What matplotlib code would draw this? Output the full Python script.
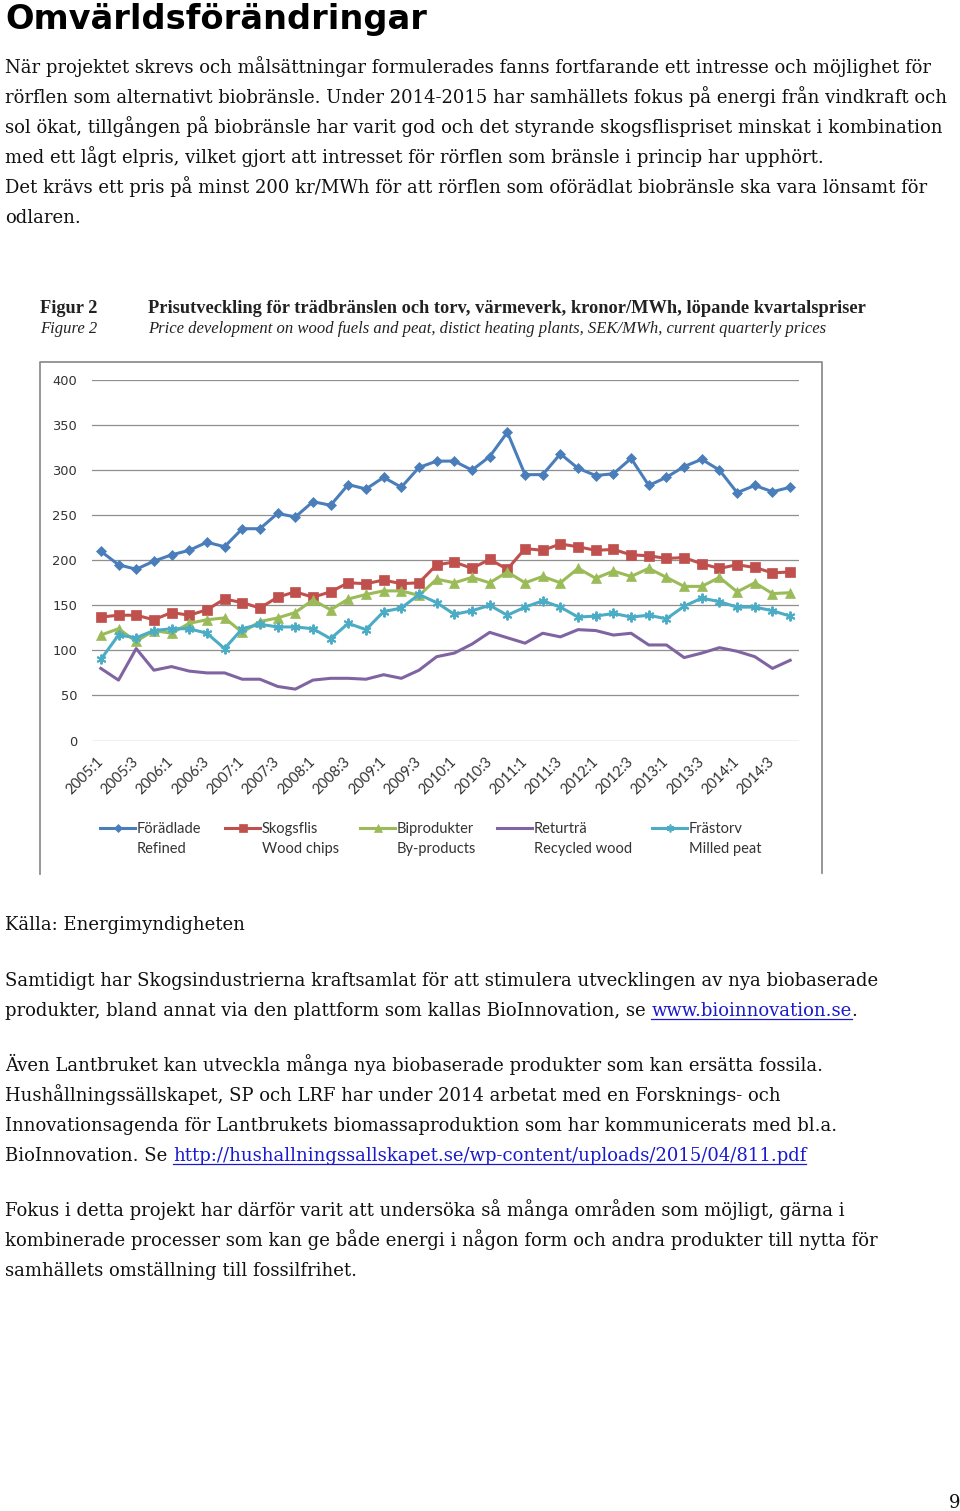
import matplotlib
matplotlib.use("Agg")
import matplotlib.pyplot as plt
from matplotlib.lines import Line2D

W, H = 960, 1511

# ---------------- data ----------------
categories = [f"{y}:{q}" for y in range(2005, 2015) for q in (1, 2, 3, 4)]
tick_labels = ["2005:1", "2005:3", "2006:1", "2006:3", "2007:1", "2007:3",
               "2008:1", "2008:3", "2009:1", "2009:3", "2010:1", "2010:3",
               "2011:1", "2011:3", "2012:1", "2012:3", "2013:1", "2013:3",
               "2014:1", "2014:3"]
y_ticks = [0, 50, 100, 150, 200, 250, 300, 350, 400]

foradlade = [210, 195, 190, 199, 206, 211, 220, 215, 235, 235,
             252, 248, 265, 261, 284, 279, 292, 281, 303, 310,
             310, 300, 315, 342, 295, 295, 318, 302, 294, 296,
             313, 283, 292, 304, 312, 300, 275, 283, 276, 281]
skogsflis = [137, 139, 139, 134, 142, 139, 145, 157, 153, 147,
             159, 165, 159, 165, 175, 174, 178, 174, 175, 195,
             198, 191, 201, 190, 213, 211, 218, 215, 211, 212,
             206, 205, 202, 203, 196, 191, 195, 192, 186, 187]
biprodukter = [117, 124, 110, 122, 119, 130, 134, 136, 120, 132,
               136, 142, 156, 145, 157, 162, 166, 166, 161, 179,
               175, 181, 175, 187, 175, 182, 175, 191, 180, 188,
               182, 191, 181, 171, 171, 181, 165, 175, 163, 164]
returtra = [80, 67, 102, 78, 82, 77, 75, 75, 68, 68,
            60, 57, 67, 69, 69, 68, 73, 69, 78, 93,
            97, 107, 120, 114, 108, 119, 115, 123, 122, 117,
            119, 106, 106, 92, 97, 103, 99, 93, 80, 89]
frastorv = [90, 117, 114, 122, 124, 124, 119, 102, 124, 129,
            126, 126, 124, 113, 130, 123, 143, 147, 162, 153,
            140, 144, 150, 139, 148, 155, 148, 137, 138, 141,
            137, 139, 135, 149, 158, 154, 148, 148, 144, 138]

series_sv = ["Förädlade", "Skogsflis", "Biprodukter", "Returträ", "Frästorv"]
series_en = ["Refined", "Wood chips", "By-products", "Recycled wood", "Milled peat"]
series_vals = [foradlade, skogsflis, biprodukter, returtra, frastorv]

# ---------------- styles ----------------
colors = ["#4A7EBB", "#C0504D", "#9BBB59", "#8064A2", "#4BACC6"]
markers = ["D", "s", "^", None, (6, 2, 0)]
msizes = [5, 6.5, 7, 0, 7]

title = "Omvärldsförändringar"
para1 = [
    "När projektet skrevs och målsättningar formulerades fanns fortfarande ett intresse och möjlighet för",
    "rörflen som alternativt biobränsle. Under 2014-2015 har samhällets fokus på energi från vindkraft och",
    "sol ökat, tillgången på biobränsle har varit god och det styrande skogsflispriset minskat i kombination",
    "med ett lågt elpris, vilket gjort att intresset för rörflen som bränsle i princip har upphört.",
    "Det krävs ett pris på minst 200 kr/MWh för att rörflen som oförädlat biobränsle ska vara lönsamt för",
    "odlaren.",
]
fig_label_sv = "Figur 2"
fig_label_en = "Figure 2"
fig_title_sv = "Prisutveckling för trädbränslen och torv, värmeverk, kronor/MWh, löpande kvartalspriser"
fig_title_en = "Price development on wood fuels and peat, distict heating plants, SEK/MWh, current quarterly prices"

fig = plt.figure(figsize=(W / 100, H / 100), dpi=100)
fig.patch.set_facecolor("white")
renderer = fig.canvas.get_renderer()


def fx(x):
    return x / W


def fy(y):
    return 1 - y / H


def put(x, y, s, **kw):
    kw.setdefault("va", "baseline")
    kw.setdefault("ha", "left")
    return fig.text(fx(x), fy(y), s, **kw)


def width(s, **kw):
    t = fig.text(0, 0, s, **kw)
    w = t.get_window_extent(renderer).width
    t.remove()
    return w


def fit_size(s, target, **kw):
    return 10 * target / width(s, fontsize=10, **kw)


# ---------------- page text ----------------
put(5, 29, title, family="DejaVu Sans", weight="bold",
    fontsize=fit_size(title, 420, family="DejaVu Sans", weight="bold"), color="black")

body_family = "DejaVu Serif"
bs = fit_size(para1[0], 930, family=body_family)
body_kw = dict(family=body_family, fontsize=bs, color="#111111")
for i, line in enumerate(para1):
    put(5, 73 + 30 * i, line, **body_kw)

space_w = width("a a", **body_kw) - width("aa", **body_kw)
link_color = "#1a1acc"


def line_with_link(x, y, pre, link, post):
    xx = x
    if pre:
        put(xx, y, pre.rstrip(), **body_kw)
        xx += width(pre.rstrip(), **body_kw) + (space_w if pre.endswith(" ") else 0)
    put(xx, y, link, **{**body_kw, "color": link_color})
    lw_ = width(link, **body_kw)
    fig.add_artist(Line2D([fx(xx), fx(xx + lw_)], [fy(y + 2.5)] * 2,
                          color=link_color, lw=0.9))
    xx += lw_
    if post:
        put(xx, y, post, **body_kw)


put(5, 930, "Källa: Energimyndigheten", **body_kw)
put(5, 986, "Samtidigt har Skogsindustrierna kraftsamlat för att stimulera utvecklingen av nya biobaserade", **body_kw)
line_with_link(5, 1016, "produkter, bland annat via den plattform som kallas BioInnovation, se ",
               "www.bioinnovation.se", ".")
put(5, 1071, "Även Lantbruket kan utveckla många nya biobaserade produkter som kan ersätta fossila.", **body_kw)
put(5, 1101, "Hushållningssällskapet, SP och LRF har under 2014 arbetat med en Forsknings- och", **body_kw)
put(5, 1131, "Innovationsagenda för Lantbrukets biomassaproduktion som har kommunicerats med bl.a.", **body_kw)
line_with_link(5, 1161, "BioInnovation. Se ",
               "http://hushallningssallskapet.se/wp-content/uploads/2015/04/811.pdf", "")
put(5, 1216, "Fokus i detta projekt har därför varit att undersöka så många områden som möjligt, gärna i", **body_kw)
put(5, 1246, "kombinerade processer som kan ge både energi i någon form och andra produkter till nytta för", **body_kw)
put(5, 1276, "samhällets omställning till fossilfrihet.", **body_kw)
put(949, 1508, "9", **body_kw)

# ---------------- figure caption ----------------
cap_b = dict(family="Liberation Serif", weight="bold", color="#222222")
cap_i = dict(family="Liberation Serif", style="italic", color="#222222")
sb = fit_size(fig_title_sv, 715, **cap_b)
si = fit_size(fig_title_en, 678, **cap_i)
put(40, 313, fig_label_sv, fontsize=sb, **cap_b)
put(148, 313, fig_title_sv, fontsize=sb, **cap_b)
put(40, 333, fig_label_en, fontsize=si, **cap_i)
put(148, 333, fig_title_en, fontsize=si, **cap_i)

# ---------------- chart frame ----------------
frame_c = "#8f8f8f"
fig.add_artist(Line2D([fx(40), fx(40), fx(822), fx(822)],
                      [fy(874), fy(362), fy(362), fy(873)],
                      color=frame_c, lw=1.3))

# ---------------- chart ----------------
ax = fig.add_axes([fx(92), fy(740.5), (799 - 92) / W, (740.5 - 380) / H])
xs = list(range(len(categories)))
for vals, c, m, ms in zip(series_vals, colors, markers, msizes):
    if m is None:
        ax.plot(xs, vals, color=c, lw=2.2, solid_joinstyle="round")
    else:
        ax.plot(xs, vals, color=c, lw=2.2, marker=m, ms=ms,
                mew=1.4 if m == (6, 2, 0) else 0.5, mec=c, mfc=c,
                solid_joinstyle="round")

ax.set_xlim(-0.5, len(categories) - 0.5)
ax.set_ylim(0, 400)
ax.set_yticks(y_ticks)
ax.set_yticklabels([str(v) for v in y_ticks], family="DejaVu Sans",
                   fontsize=9.4, color="#333333")
ax.set_xticks(list(range(0, len(categories), 2)))
ax.set_xticklabels(tick_labels, rotation=45, ha="right", va="center",
                   rotation_mode="anchor", family="Lato", fontsize=10.5,
                   color="#333333")
ax.tick_params(axis="y", length=0, pad=10.8)
ax.tick_params(axis="x", length=0, pad=14)
for sp in ax.spines.values():
    sp.set_visible(False)
ax.yaxis.grid(True, color="#8f8f8f", lw=0.9)
ax.set_axisbelow(True)
ax.set_facecolor("none")

# ---------------- legend ----------------
leg_x = [100, 225, 360, 497, 652]
leg_kw = dict(family="Lato", fontsize=10.5, color="#333333")
for x0, name, en, c, m, ms in zip(leg_x, series_sv, series_en, colors, markers, msizes):
    if m is None:
        fig.add_artist(Line2D([fx(x0), fx(x0 + 35)], [fy(828)] * 2, color=c, lw=2.2))
    else:
        fig.add_artist(Line2D([fx(x0), fx(x0 + 17.5), fx(x0 + 35)], [fy(828)] * 3,
                              color=c, lw=2.2, marker=m, ms=ms * 0.8,
                              mew=1.2 if m == (6, 2, 0) else 0.5, mec=c, mfc=c,
                              markevery=[1]))
    put(x0 + 37, 833, name, **leg_kw)
    put(x0 + 37, 853, en, **leg_kw)

fig.savefig("out.png", dpi=100, facecolor="white")
